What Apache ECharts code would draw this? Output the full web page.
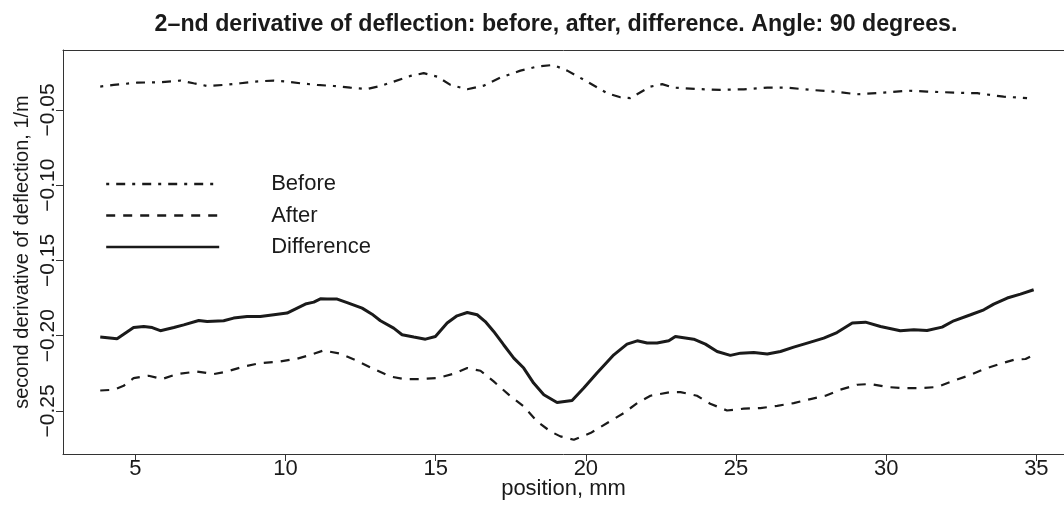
<!DOCTYPE html>
<html>
<head>
<meta charset="utf-8">
<script src="https://cdn.jsdelivr.net/npm/echarts@6/dist/echarts.min.js"></script>
<style>
  html, body { margin: 0; padding: 0; background: #fff; }
  #chart { width: 1064px; height: 506px; }
</style>
</head>
<body>
<div id="chart"></div>
<script>
// ---- Data ----
const titleText = '2–nd derivative of deflection: before, after, difference. Angle: 90 degrees.';
const xAxisTitle = 'position, mm';
const yAxisTitle = 'second derivative of deflection, 1/m';
const xTicks = [5, 10, 15, 20, 25, 30, 35];
const yTicks = [-0.25, -0.20, -0.15, -0.10, -0.05];
const seriesNames = ['Before', 'After', 'Difference'];

const beforeX = [3.83,4.28,5.06,5.83,6.50,6.94,7.39,7.94,8.50,8.94,9.61,10.05,10.49,11.05,11.60,12.16,12.72,13.16,13.60,14.16,14.60,15.05,15.49,16.05,16.60,17.15,17.82,18.38,18.82,18.99,19.38,20.04,20.71,21.15,21.48,22.15,22.54,22.93,23.70,24.48,25.26,26.04,26.70,27.48,28.25,29.03,29.92,30.70,31.36,32.25,33.03,33.91,34.69];
const beforeY = [-0.0345,-0.0334,-0.0319,-0.0316,-0.0305,-0.0323,-0.0341,-0.0334,-0.0323,-0.0312,-0.0305,-0.0312,-0.0323,-0.0334,-0.0341,-0.0352,-0.0361,-0.0341,-0.0312,-0.0274,-0.0256,-0.0279,-0.0334,-0.0363,-0.0339,-0.0286,-0.0239,-0.0212,-0.0203,-0.0208,-0.0239,-0.0312,-0.0389,-0.0416,-0.0422,-0.0345,-0.0329,-0.0352,-0.0361,-0.0367,-0.0363,-0.0352,-0.0352,-0.0367,-0.0378,-0.0396,-0.0385,-0.0372,-0.0378,-0.0385,-0.0389,-0.0412,-0.0422];

const afterX = [3.83,4.28,4.61,4.94,5.44,5.89,6.39,7.05,7.61,8.05,8.61,9.16,9.83,10.38,10.83,11.27,11.83,12.38,12.94,13.49,13.93,14.49,15.05,15.60,16.05,16.49,16.93,17.43,17.93,18.38,18.82,19.15,19.60,20.15,20.71,21.26,21.71,22.15,22.82,23.15,23.70,24.14,24.70,25.26,25.81,26.37,26.92,27.48,27.98,28.47,29.03,29.48,30.03,30.58,31.14,31.70,32.25,32.81,33.25,33.80,34.25,34.64,34.91];
const afterY = [-0.2364,-0.2359,-0.2333,-0.2282,-0.2266,-0.2288,-0.2255,-0.2238,-0.2255,-0.2238,-0.2205,-0.2182,-0.2171,-0.2153,-0.2127,-0.2098,-0.2120,-0.2167,-0.2222,-0.2271,-0.2288,-0.2288,-0.2282,-0.2253,-0.2215,-0.2233,-0.2304,-0.2392,-0.2470,-0.2570,-0.2636,-0.2669,-0.2691,-0.2647,-0.2580,-0.2514,-0.2448,-0.2399,-0.2375,-0.2375,-0.2399,-0.2452,-0.2497,-0.2485,-0.2481,-0.2466,-0.2448,-0.2421,-0.2399,-0.2359,-0.2326,-0.2321,-0.2341,-0.2348,-0.2348,-0.2341,-0.2299,-0.2260,-0.2222,-0.2187,-0.2160,-0.2155,-0.2127];

const diffX = [3.83,4.39,4.94,5.28,5.56,5.83,6.28,6.61,7.11,7.39,7.94,8.27,8.72,9.16,9.61,10.05,10.27,10.66,10.94,11.16,11.38,11.72,12.05,12.55,12.88,13.16,13.60,13.88,14.27,14.66,14.99,15.38,15.71,16.05,16.38,16.65,16.93,17.26,17.60,17.93,18.26,18.60,19.04,19.54,19.93,20.37,20.93,21.37,21.71,22.04,22.37,22.76,22.98,23.59,23.98,24.37,24.81,25.15,25.59,26.04,26.48,26.92,27.37,27.92,28.36,28.87,29.31,29.81,30.47,30.92,31.36,31.86,32.25,32.81,33.25,33.58,34.03,34.47,34.91];
const diffY = [-0.2009,-0.2021,-0.1946,-0.1939,-0.1946,-0.1967,-0.1946,-0.1928,-0.1899,-0.1906,-0.1901,-0.1883,-0.1873,-0.1873,-0.1861,-0.1850,-0.1828,-0.1790,-0.1777,-0.1755,-0.1757,-0.1757,-0.1780,-0.1817,-0.1857,-0.1901,-0.1950,-0.1994,-0.2009,-0.2023,-0.2005,-0.1916,-0.1868,-0.1846,-0.1861,-0.1906,-0.1972,-0.2060,-0.2149,-0.2215,-0.2315,-0.2392,-0.2444,-0.2430,-0.2348,-0.2248,-0.2127,-0.2056,-0.2034,-0.2049,-0.2049,-0.2034,-0.2005,-0.2023,-0.2056,-0.2105,-0.2131,-0.2116,-0.2112,-0.2122,-0.2105,-0.2076,-0.2049,-0.2016,-0.1979,-0.1916,-0.1910,-0.1939,-0.1967,-0.1961,-0.1965,-0.1943,-0.1901,-0.1861,-0.1828,-0.1790,-0.1750,-0.1724,-0.1695];

// ---- Chart ----
const FONT = 'Liberation Sans, Arial, Helvetica, sans-serif';
const INK = '#1a1a1a';
const AXIS = '#333333';
const zip = (xs, ys) => xs.map((x, i) => [x, ys[i]]);
const fmtY = v => (v < 0 ? '\u2212' : '') + Math.abs(v).toFixed(2);

const chart = echarts.init(document.getElementById('chart'), null, { renderer: 'canvas' });
chart.setOption({
  animation: false,
  backgroundColor: '#ffffff',
  textStyle: { fontFamily: FONT, color: INK },
  title: {
    text: titleText,
    left: 551, top: 8, textAlign: 'center',
    textStyle: { fontFamily: FONT, fontSize: 23.2, fontWeight: 'bold', color: INK }
  },
  grid: { left: 63, right: 0, top: 50, bottom: 52, containLabel: false, outerBoundsMode: 'none' },
  legend: {
    orient: 'vertical',
    left: 100, top: 168,
    itemWidth: 113, itemHeight: 22, itemGap: 9.5,
    data: seriesNames,
    itemStyle: { opacity: 0 },
    lineStyle: { width: 2.4 },
    textStyle: { fontFamily: FONT, fontSize: 22, color: INK, lineHeight: 22, padding: [0, 0, 0, 47] },
    selectedMode: false
  },
  xAxis: [{
    type: 'value', min: 2.59, max: 35.92, position: 'bottom',
    name: xAxisTitle, nameLocation: 'middle', nameGap: 24, nameMoveOverlap: false,
    nameTextStyle: { fontFamily: FONT, fontSize: 22, color: INK },
    axisLine: { show: true, onZero: false, lineStyle: { color: AXIS, width: 1 } },
    axisTick: { show: true, length: 7, lineStyle: { color: AXIS }, customValues: xTicks },
    axisLabel: { show: true, margin: 4, fontSize: 22, color: INK, fontFamily: FONT, customValues: xTicks },
    splitLine: { show: false }
  }, {
    type: 'value', min: 2.59, max: 35.92, position: 'top',
    axisLine: { show: true, onZero: false, lineStyle: { color: AXIS, width: 1 } },
    axisTick: { show: false }, axisLabel: { show: false }, splitLine: { show: false }
  }],
  yAxis: {
    type: 'value', min: -0.2786, max: -0.0102,
    name: yAxisTitle, nameLocation: 'middle', nameGap: 31, nameRotate: 90, nameMoveOverlap: false,
    nameTextStyle: { fontFamily: FONT, fontSize: 20, color: INK },
    axisLine: { show: true, onZero: false, lineStyle: { color: AXIS, width: 1 } },
    axisTick: { show: true, length: 7, lineStyle: { color: AXIS }, customValues: yTicks },
    axisLabel: { show: true, rotate: 90, margin: 4, fontSize: 21, color: INK, fontFamily: FONT,
                 customValues: yTicks, formatter: fmtY },
    splitLine: { show: false }
  },
  series: [{
    name: seriesNames[0], type: 'line', xAxisIndex: 0,
    data: zip(beforeX, beforeY), symbol: 'none', showSymbol: false,
    lineStyle: { color: INK, width: 2.2, type: [3, 7, 9, 7], cap: 'butt' },
    itemStyle: { color: INK }
  }, {
    name: seriesNames[1], type: 'line', xAxisIndex: 0,
    data: zip(afterX, afterY), symbol: 'none', showSymbol: false,
    lineStyle: { color: INK, width: 2.2, type: [9, 8], cap: 'butt' },
    itemStyle: { color: INK }
  }, {
    name: seriesNames[2], type: 'line', xAxisIndex: 0,
    data: zip(diffX, diffY), symbol: 'none', showSymbol: false,
    lineStyle: { color: INK, width: 3 },
    itemStyle: { color: INK }
  }]
});
</script>
</body>
</html>
